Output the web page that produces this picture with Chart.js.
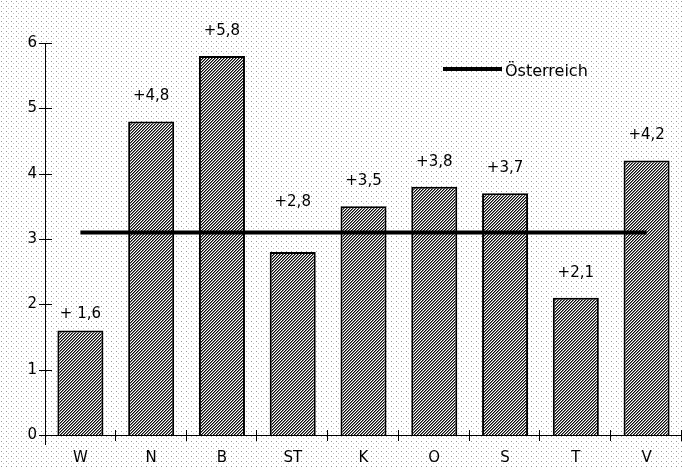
<!DOCTYPE html>
<html>
<head>
<meta charset="utf-8">
<script src="https://cdn.jsdelivr.net/npm/chart.js@4/dist/chart.umd.min.js"></script>
<style>
    html, body { margin: 0; padding: 0; background: #fff; }
    #wrap { width: 682px; height: 467px; position: relative; }
</style>
</head>
<body>
<div id="wrap"><canvas id="chart"></canvas></div>
<script>
// Regions and their values
const regions = ['W', 'N', 'B', 'ST', 'K', 'O', 'S', 'T', 'V'];
const increase = [1.6, 4.8, 5.8, 2.8, 3.5, 3.8, 3.7, 2.1, 4.2];
const barLabels = ['+ 1,6', '+4,8', '+5,8', '+2,8', '+3,5', '+3,8', '+3,7', '+2,1', '+4,2'];
const austria = [3.1, 3.1, 3.1, 3.1, 3.1, 3.1, 3.1, 3.1, 3.1];
const yTicks = [0, 1, 2, 3, 4, 5, 6];

Chart.defaults.font.family = "'DejaVu Sans', sans-serif";
Chart.defaults.font.size = 15;
Chart.defaults.color = '#000';

// Dense hatch pattern for the bars ("/" direction)
function hatchPattern() {
    const c = document.createElement('canvas');
    c.width = 3; c.height = 3;
    const g = c.getContext('2d');
    const img = g.createImageData(3, 3);
    for (let y = 0; y < 3; y++) {
        for (let x = 0; x < 3; x++) {
            const k = (x + y) % 3;
            const v = k === 2 ? 10 : (k === 0 ? 120 : 255);
            const i = (y * 3 + x) * 4;
            img.data[i] = img.data[i + 1] = img.data[i + 2] = v;
            img.data[i + 3] = 255;
        }
    }
    g.putImageData(img, 0, 0);
    return g.createPattern(c, 'repeat');
}

// Light dotted paper texture (fixed tile)
function paperPattern() {
    const c = document.createElement('canvas');
    c.width = 5; c.height = 5;
    const g = c.getContext('2d');
    g.fillStyle = '#fff';
    g.fillRect(0, 0, 5, 5);
    g.fillStyle = '#9a9a9a';
    g.fillRect(1, 1, 1, 1);
    g.fillStyle = '#c4c4c4';
    g.fillRect(3, 3, 1, 1);
    return g.createPattern(c, 'repeat');
}

const paperPlugin = {
    id: 'paper',
    beforeDraw(chart) {
        const ctx = chart.ctx;
        ctx.save();
        ctx.fillStyle = paperPattern();
        ctx.fillRect(0, 0, chart.width, chart.height);
        ctx.restore();
    },
};

// Tick marks that cross the axes, like the original
const axisTicksPlugin = {
    id: 'axisTicks',
    afterDraw(chart) {
        const { ctx, chartArea } = chart;
        const x = chart.scales.x;
        const y = chart.scales.y;
        ctx.save();
        ctx.strokeStyle = '#000';
        ctx.lineWidth = 1;
        ctx.beginPath();
        ctx.moveTo(chartArea.left + 0.5, chartArea.top);
        ctx.lineTo(chartArea.left + 0.5, chartArea.bottom + 10);
        for (const v of yTicks) {
            const py = Math.round(y.getPixelForValue(v)) + 0.5;
            ctx.moveTo(chartArea.left - 6, py);
            ctx.lineTo(chartArea.left + 7, py);
        }
        for (let i = 1; i <= regions.length; i++) {
            const px = Math.round(x.getPixelForValue(i - 0.5)) - 0.5;
            ctx.moveTo(px, chartArea.bottom - 5);
            ctx.lineTo(px, chartArea.bottom + 6);
        }
        ctx.stroke();
        ctx.restore();
    },
};

// Value labels above the bars
const labelLift = { W: 16, ST: 50 };
const barLabelPlugin = {
    id: 'barLabels',
    afterDatasetsDraw(chart) {
        const ctx = chart.ctx;
        const meta = chart.getDatasetMeta(0);
        ctx.save();
        ctx.font = "15px 'DejaVu Sans', sans-serif";
        ctx.fillStyle = '#000';
        ctx.textAlign = 'center';
        ctx.textBaseline = 'middle';
        meta.data.forEach((bar, i) => {
            const lift = labelLift[regions[i]] || 25;
            ctx.fillText(barLabels[i], bar.x, bar.y - lift);
        });
        ctx.restore();
    },
};

// Legend for the Austria line
const legendPlugin = {
    id: 'lineLegend',
    afterDraw(chart) {
        const ctx = chart.ctx;
        const ds = chart.data.datasets[1];
        ctx.save();
        ctx.strokeStyle = '#000';
        ctx.lineWidth = 4;
        ctx.beginPath();
        ctx.moveTo(443, 69);
        ctx.lineTo(502, 69);
        ctx.stroke();
        ctx.font = "16px 'DejaVu Sans', sans-serif";
        ctx.fillStyle = '#000';
        ctx.textAlign = 'left';
        ctx.textBaseline = 'middle';
        ctx.fillText(ds.label, 505, 72);
        ctx.restore();
    },
};

new Chart(document.getElementById('chart'), {
    data: {
        labels: regions,
        datasets: [
            {
                type: 'bar',
                label: 'Zuwachs',
                data: increase,
                backgroundColor: hatchPattern(),
                borderColor: '#000',
                borderWidth: 2,
                barPercentage: 0.65,
                categoryPercentage: 1,
                order: 1,
            },
            {
                type: 'line',
                label: 'Österreich',
                data: austria,
                borderColor: '#000',
                borderWidth: 4,
                pointRadius: 0,
                tension: 0,
                fill: false,
                order: 0,
            },
        ],
    },
    options: {
        responsive: true,
        maintainAspectRatio: false,
        animation: false,
        layout: { padding: { top: 43, right: 0, left: 0, bottom: 0 } },
        plugins: {
            legend: { display: false },
            tooltip: { enabled: false },
        },
        scales: {
            x: {
                offset: true,
                grid: { display: false, drawTicks: false },
                border: { display: true, color: '#000', width: 1 },
                ticks: { padding: 14, maxRotation: 0 },
                afterFit(s) { s.height = 32; },
            },
            y: {
                min: 0,
                max: 6,
                grid: { display: false, drawTicks: false },
                border: { display: false },
                ticks: { stepSize: 1, padding: 8 },
                afterFit(s) { s.width = 45; },
            },
        },
    },
    plugins: [paperPlugin, axisTicksPlugin, barLabelPlugin, legendPlugin],
});
</script>
</body>
</html>
